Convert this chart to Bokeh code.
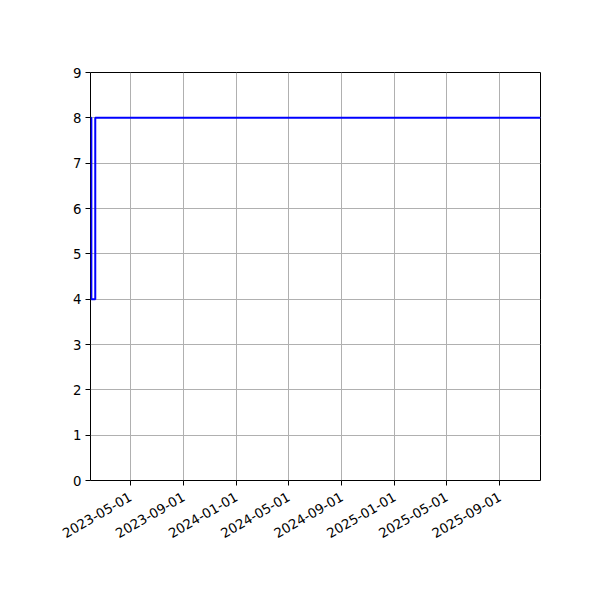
import math
import pandas as pd
from bokeh.plotting import figure
from bokeh.models import Range1d, FixedTicker, DatetimeTickFormatter
from bokeh.embed import file_html
from bokeh.resources import INLINE

dates = ["2023-01-29", "2023-01-31", "2023-02-09", "2025-12-04"]
values = [8, 4, 8, 8]
x_ticks = ["2023-05-01", "2023-09-01", "2024-01-01", "2024-05-01",
           "2024-09-01", "2025-01-01", "2025-05-01", "2025-09-01"]
y_ticks = [0, 1, 2, 3, 4, 5, 6, 7, 8, 9]

def ms(s):
    return pd.Timestamp(s).value / 1e6

xd = pd.to_datetime(dates)

p = figure(width=592, height=592, x_axis_type="datetime",
           output_backend="svg", toolbar_location=None,
           min_border_left=90, min_border_right=52,
           min_border_top=72, min_border_bottom=112)
p.x_range = Range1d(ms(dates[0]), ms(dates[-1]))
p.y_range = Range1d(0, 9)

p.step(xd, values, mode="after", line_color="#0000ff", line_width=2)

p.xaxis.ticker = FixedTicker(ticks=[ms(t) for t in x_ticks])
fmt = "%Y-%m-%d"
p.xaxis.formatter = DatetimeTickFormatter(
    milliseconds=fmt, seconds=fmt, minsec=fmt, minutes=fmt, hourmin=fmt,
    hours=fmt, days=fmt, months=fmt, years=fmt)
p.xaxis.major_label_orientation = math.pi / 6
p.yaxis.ticker = FixedTicker(ticks=y_ticks)

for ax in (p.xaxis, p.yaxis):
    ax.axis_line_color = None
    ax.major_tick_line_color = "black"
    ax.major_tick_in = 0
    ax.major_tick_out = 5
    ax.minor_tick_line_color = None
    ax.major_label_text_font = "DejaVu Sans"
    ax.major_label_text_font_size = "13.3px"
    ax.major_label_text_color = "black"
    ax.major_label_standoff = 4
p.xaxis.major_label_standoff = 10

p.grid.grid_line_color = "#b0b0b0"
p.grid.grid_line_width = 1
p.outline_line_color = "black"
p.outline_line_width = 1
p.outline_line_alpha = 1
p.background_fill_color = "white"
p.border_fill_color = "white"

open("out.html", "w").write(file_html(p, INLINE))
